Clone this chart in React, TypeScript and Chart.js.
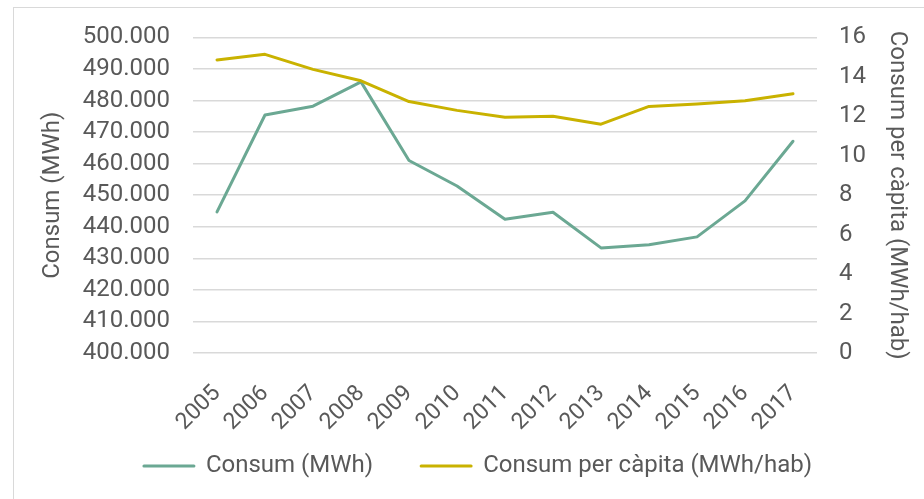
import { useEffect, useRef } from "react";
import { Chart, registerables } from "chart.js";

Chart.register(...registerables);

const years = ["2005", "2006", "2007", "2008", "2009", "2010", "2011", "2012", "2013", "2014", "2015", "2016", "2017"];
const consumMWh = [444700, 475400, 478200, 485900, 461000, 452900, 442400, 444600, 433300, 434300, 436800, 448200, 467100];
const consumPerCapita = [14.86, 15.14, 14.38, 13.8, 12.75, 12.3, 11.95, 12.0, 11.6, 12.5, 12.62, 12.79, 13.14];

const leftMin = 400000;
const leftMax = 500000;
const leftStep = 10000;
const rightMin = 0;
const rightMax = 16;
const rightStep = 2;

const seriesNames = ["Consum (MWh)", "Consum per càpita (MWh/hab)"];
const leftTitle = "Consum (MWh)";
const rightTitle = "Consum per càpita (MWh/hab)";

const TEAL = "#6BA893";
const GOLD = "#C9B200";
const TEXT = "#595959";
const GRID = "#d9d9d9";
const FONT = "Roboto";
const FS = 24;

const fmt = (v: number) => String(Math.round(v)).replace(/\B(?=(\d{3})+(?!\d))/g, ".");

export default function App() {
  const ref = useRef<HTMLCanvasElement>(null);

  useEffect(() => {
    document.body.style.margin = "0";
    document.body.style.background = "#fff";
    const font = { family: FONT, size: FS };
    const chart = new Chart(ref.current!, {
      type: "line",
      data: {
        labels: years,
        datasets: [
          {
            label: seriesNames[0],
            data: consumMWh,
            borderColor: TEAL,
            backgroundColor: TEAL,
            borderWidth: 3,
            pointRadius: 0,
            borderJoinStyle: "round",
            borderCapStyle: "round",
            yAxisID: "y",
            order: 1,
          },
          {
            label: seriesNames[1],
            data: consumPerCapita,
            borderColor: GOLD,
            backgroundColor: GOLD,
            borderWidth: 3,
            pointRadius: 0,
            borderJoinStyle: "round",
            borderCapStyle: "round",
            yAxisID: "y1",
            order: 0,
          },
        ],
      },
      options: {
        responsive: false,
        animation: false,
        devicePixelRatio: 1,
        layout: { padding: { left: 32, right: 0, top: 36, bottom: 11 } },
        plugins: {
          tooltip: { enabled: false },
          legend: {
            position: "bottom",
            labels: {
              boxWidth: 50,
              boxHeight: 0.01,
              padding: 48,
              color: TEXT,
              font,
              sort: (a: any, b: any) => a.datasetIndex - b.datasetIndex,
            },
          },
        },
        scales: {
          x: {
            offset: true,
            grid: { display: false },
            border: { display: false },
            ticks: {
              minRotation: 45,
              maxRotation: 45,
              autoSkip: false,
              padding: 19,
              color: TEXT,
              font: { family: FONT, size: 23 },
            },
            afterFit: (s: any) => {
              s.height = 53;
              s._computeLabelArea = () => undefined;
            },
          },
          y: {
            position: "left",
            min: leftMin,
            max: leftMax,
            ticks: {
              stepSize: leftStep,
              autoSkip: false,
              padding: 23,
              color: TEXT,
              font,
              callback: (v: any) => fmt(Number(v)),
            },
            grid: { color: GRID, lineWidth: 1.5, drawTicks: false },
            border: { display: false },
            title: {
              display: true,
              text: leftTitle,
              color: TEXT,
              font,
              padding: { top: 7, bottom: 0 },
            },
            afterFit: (s: any) => {
              s.width = 161;
            },
          },
          y1: {
            position: "right",
            min: rightMin,
            max: rightMax,
            ticks: { stepSize: rightStep, autoSkip: false, padding: 22, color: TEXT, font },
            grid: { display: false, drawTicks: false },
            border: { display: false },
            title: {
              display: true,
              text: rightTitle,
              color: TEXT,
              font,
              padding: { top: 13, bottom: 0 },
            },
            afterFit: (s: any) => {
              s.width = 107;
            },
          },
        },
      },
    } as any);
    return () => chart.destroy();
  }, []);

  return (
    <div style={{ position: "relative", width: 924, height: 499, overflow: "hidden", background: "#fff" }}>
      <div
        style={{
          position: "absolute",
          left: 13,
          top: 7,
          width: 1200,
          height: 1200,
          borderLeft: "1px solid #d9d9d9",
          borderTop: "1px solid #d9d9d9",
        }}
      />
      <canvas ref={ref} width={924} height={499} style={{ position: "absolute", left: 0, top: 0 }} />
    </div>
  );
}
